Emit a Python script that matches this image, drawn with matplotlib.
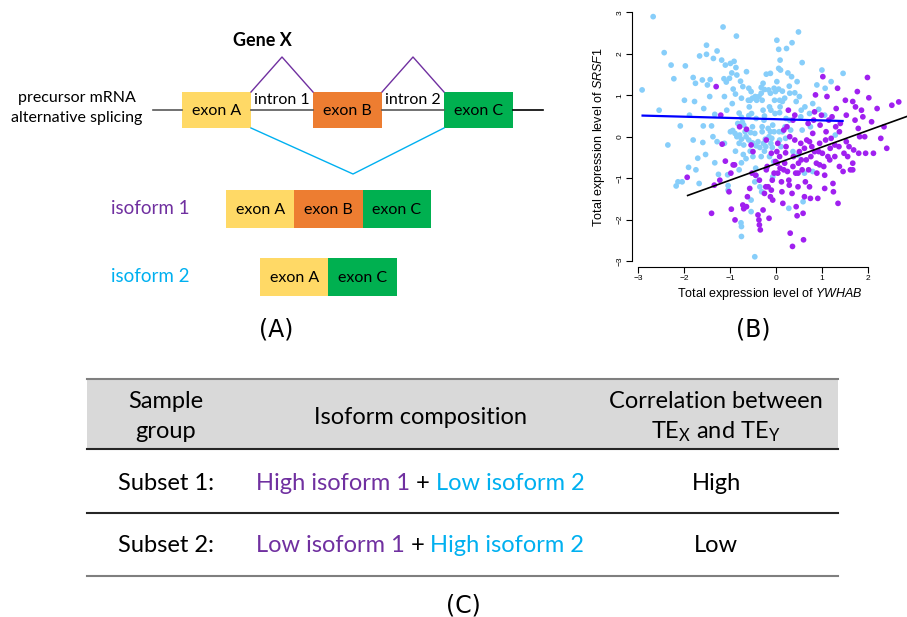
import matplotlib
matplotlib.use("Agg")
import matplotlib.pyplot as plt
import numpy as np

plt.rcParams['font.family'] = ['Lato', 'DejaVu Sans']
plt.rcParams['mathtext.fontset'] = 'custom'
plt.rcParams['mathtext.rm'] = 'Liberation Sans'
plt.rcParams['mathtext.it'] = 'Liberation Sans:italic'

# ---------------- data for panel B ----------------
blue_x = [-2.67, -2.91, -2.54, -2.43, -2.28, -2.22, -2.35, -1.97, -1.99, -2.08, -2.13, -2.04, -2.17,
          -1.90, -1.88, -1.80, -1.75, -1.77, -1.66, -1.60, -1.57, -1.51, -1.51, -1.49, -1.58, -1.59,
          -1.53, -1.70, -1.67, -1.74, -1.80, -1.43, -1.44, -1.40, -1.37, -1.36, -1.28, -1.33, -1.28,
          -1.33, -1.25, -1.15, -1.18, -1.10, -1.13, -1.08, -1.12, -1.07, -1.12, -1.05, -1.04, -1.04,
          -0.99, -0.91, -0.87, -0.96, -1.01, -0.93, -0.95, -0.88, -0.99, -0.94, -0.89, -0.85, -0.79,
          -0.80, -0.88, -0.86, -0.85, -0.77, -0.72, -0.75, -0.80, -0.75, -0.73, -0.83, -0.70, -0.67,
          -0.65, -0.75, -0.70, -0.71, -0.65, -0.75, -0.80, -0.76, -0.75, -0.75, -0.64, -0.60, -0.58,
          -0.59, -0.59, -0.54, -0.56, -0.51, -0.53, -0.51, -0.55, -0.59, -0.51, -0.56, -0.50, -0.54,
          -0.54, -0.46, -0.45, -0.42, -0.43, -0.46, -0.39, -0.43, -0.35, -0.32, -0.44, -0.43, -0.46,
          -0.35, -0.31, -0.37, -0.32, -0.32, -0.28, -0.25, -0.30, -0.28, -0.25, -0.26, -0.30, -0.30,
          -0.23, -0.27, -0.22, -0.25, -0.21, -0.12, -0.16, -0.12, -0.14, -0.11, -0.17, -0.12, -0.15,
          -0.09, -0.11, -0.08, -0.14, -0.07, -0.05, -0.04, -0.01, -0.03, -0.02, -0.07, -0.04, 0.02,
          0.06, 0.09, 0.06, 0.10, 0.02, 0.06, 0.14, 0.08, 0.14, 0.09, 0.08, 0.07, 0.08, 0.14, 0.11,
          0.23, 0.35, 0.26, 0.29, 0.19, 0.30, 0.22, 0.30, 0.20, 0.32, 0.21, 0.34, 0.41, 0.44, 0.46,
          0.49, 0.51, 0.57, 0.55, 0.54, 0.57, 0.28, 0.59, 0.63, 0.73, 0.75, 0.80, 0.89, 0.93, 1.00,
          1.06, 1.07, 1.20, 1.29, 1.46, 0.80, 0.62, 0.37, 0.48]
blue_y = [2.90, 1.13, 0.64, 2.03, 1.73, 1.40, -0.20, 1.71, 0.88, 0.26, -1.09, -1.09, -1.19,
          -0.74, 0.52, 1.43, 1.29, 0.85, 1.95, 1.37, 0.68, 2.21, 1.99, 1.25, 0.26, -0.14,
          -0.43, -0.52, -1.13, -0.80, -0.08, 1.38, 0.97, 0.26, 0.00, 1.89, 2.07, 0.54, -0.12,
          -0.63, -0.91, 2.65, 1.85, 1.73, 1.40, 1.32, 0.97, 0.64, -0.16, -0.92, -1.18, -1.29,
          1.77, 1.82, 1.67, 1.54, 1.41, 1.15, 0.80, 1.03, 0.12, 0.15, 0.08, 0.00, 0.04,
          -0.16, -0.35, 2.43, 1.49, 1.34, 1.21, 0.93, 0.57, 0.47, 0.35, 0.32, 0.28, 0.12,
          0.00, -0.06, -0.20, -0.43, -0.53, -0.63, -0.80, -2.08, -2.17, -2.41, 1.57, 0.88, 0.72,
          0.51, 1.17, 1.09, 0.88, 0.93, 0.56, 0.24, 0.10, -0.08, -0.15, -0.35, -0.48, -1.53,
          -1.81, -2.90, 0.97, 0.88, 0.44, 0.08, -0.12, -0.22, -0.26, -0.48, -0.76, -0.94, -1.09,
          -1.21, -1.33, 0.97, 1.05, 1.19, 1.29, 1.14, 0.88, 0.64, 0.50, 0.40, 0.24, 0.12,
          -0.06, -0.16, -0.24, -0.35, 1.51, 1.53, 1.13, 1.05, 0.72, 0.64, 0.20, 0.12, 0.00,
          -0.04, -0.16, -0.26, -0.48, -0.97, -0.60, 1.17, 1.09, 0.88, 0.56, 0.28, 0.12, 2.33,
          2.11, 1.85, 1.65, 1.61, 1.33, 1.15, 1.10, 0.88, 0.85, 0.72, 0.58, 0.12, -0.08, 0.12, -0.24,
          2.13, 2.27, 1.54, 1.22, 0.93, 1.05, 0.44, 0.40, 0.24, 0.16, -0.04, 1.45, 1.06, 0.85, 1.33,
          2.53, 0.97, 1.79, 0.64, 0.48, 0.16, -1.73, -1.57, 0.72, 0.56, 0.24, 0.80, 1.25, 0.66, 1.61,
          0.52, 1.17, 1.33, 0.04, 1.53, -0.84, -0.88, -0.36, -0.44]

purple_x = [-1.93, -1.34, -1.40, -1.30, -1.20, -1.17, -1.22, -1.02, -0.97, -0.98, -0.93, -0.89,
            -0.72, -0.64, -0.62, -0.57, -0.50, -0.52, -0.54, -0.44, -0.39, -0.37, -0.34, -0.36,
            -0.28, -0.25, -0.22, -0.21, -0.19, -0.17, -0.15, -0.12, -0.10, -0.08, -0.07, -0.04,
            -0.01, 0.02, 0.03, 0.04, 0.08, 0.09, 0.12, 0.13, 0.15, 0.17, 0.19, 0.21, 0.22, 0.24,
            0.27, 0.25, 0.28, 0.29, 0.31, 0.36, 0.35, 0.37, 0.38, 0.41, 0.41, 0.43, 0.44, 0.46,
            0.48, 0.49, 0.51, 0.54, 0.57, 0.59, 0.60, 0.62, 0.64, 0.66, 0.67, 0.70, 0.71, 0.73,
            0.75, 0.76, 0.78, 0.80, 0.82, 0.84, 0.86, 0.88, 0.89, 0.91, 0.93, 0.95, 0.96, 0.99,
            1.01, 1.02, 1.04, 1.06, 1.08, 1.09, 1.11, 1.13, 1.15, 1.18, 1.20, 1.22, 1.24, 1.25,
            1.28, 1.30, 1.31, 1.34, 1.35, 1.37, 1.38, 1.40, 1.46, 1.48, 1.51, 1.53, 1.56, 1.59,
            1.62, 1.67, 1.67, 1.69, 1.72, 1.73, 1.77, 1.79, 1.80, 1.86, 1.89, 1.93, 1.95, 1.99,
            2.02, 2.08, 2.12, 2.20, 2.28, 2.35, 2.41, 2.52, 2.67, -0.79, -1.10, -0.90, -0.64,
            -0.70, -0.36, -0.21, -0.10, 0.04, 0.17, 0.30, 0.37, 0.48, 0.55, 0.62, 0.73, 0.84,
            0.95, 1.06, 1.17, 1.28, 1.38, 1.53, 1.67, 1.82]
purple_y = [-0.98, -1.17, -1.85, 1.21, 0.52, -0.18, -1.05, -1.33, -1.75, -0.88, -0.68, -2.01,
            -1.65, -1.69, -1.45, -1.25, -0.36, -0.88, -0.20, -0.93, -1.89, -2.01, -2.25, -2.13,
            -1.77, -1.37, -1.21, -0.80, -0.72, -1.21, -1.97, -1.45, -1.29, -1.05, -1.53, -0.88,
            -0.60, -0.36, -0.64, -0.88, -0.48, -0.76, -1.09, -1.33, -1.61, -0.80, -0.64, -0.39,
            -0.24, 0.24, 0.64, -0.84, -1.05, -1.17, -2.33, -2.65, -1.37, -0.72, -0.48, 0.52,
            -0.08, -0.88, -1.69, -1.91, -1.21, -0.64, -0.36, -0.16, -0.80, -1.85, -2.49, -1.45,
            -1.09, -0.56, -0.08, 0.32, -0.80, -1.21, -1.49, -0.48, -0.24, 0.08, 0.40, 0.60, 1.01,
            -0.64, -0.88, -1.49, -0.36, -0.16, 0.28, 0.52, -0.40, 1.45, -0.72, -0.93, -0.08, 0.12,
            0.97, -0.48, 0.40, -0.28, -0.04, 0.48, -1.13, -1.33, -0.48, 0.24, 0.68, 1.17, -1.61,
            -0.24, 0.12, 0.32, -0.84, -0.40, 0.88, 0.52, -0.48, -0.24, -0.80, -0.80, 0.85, -0.32,
            0.40, 0.72, 1.09, 0.20, -0.40, 0.64, 0.48, 0.00, -0.40, 1.43, 0.94, 0.36, -0.40, 0.68,
            -0.04, 0.24, -0.28, 0.76, 0.84, 0.24, -0.59, -0.68, 0.18, -1.74, -1.05, -0.08, -0.40,
            -0.16, 0.16, 0.00, 0.40, -0.88, -0.56, -0.28, -0.12, -0.36, -0.68, -1.25, -0.56, -0.20,
            -0.72, -0.12, -0.64, 0.00]

# fitted regression lines (end points)
blue_line_x = [-2.90, 1.45]
blue_line_y = [0.51, 0.38]
black_line_x = [-1.92, 2.90]
black_line_y = [-1.42, 0.51]

x_ticks = [-3, -2, -1, 0, 1, 2]
y_ticks = [-3, -2, -1, 0, 1, 2, 3]

# ---------------- data for panel A ----------------
exon_names = ["exon A", "exon B", "exon C"]
exon_colors = ["#FFD966", "#ED7D31", "#00B050"]
intron_names = ["intron 1", "intron 2"]
isoform_labels = ["isoform 1", "isoform 2"]
isoform_exons = [[0, 1, 2], [0, 2]]
c_purple = "#7030A0"
c_cyan = "#00B0F0"

# ---------------- data for panel C ----------------
header_1 = ["Sample", "group"]
header_2 = "Isoform composition"
header_3 = ["Correlation between", r"TE$_\mathregular{X}$ and TE$_\mathregular{Y}$"]
row_names = ["Subset 1:", "Subset 2:"]
row_parts = [[("High isoform 1", c_purple), ("+", "black"), ("Low isoform 2", c_cyan)],
             [("Low isoform 1", c_purple), ("+", "black"), ("High isoform 2", c_cyan)]]
row_corr = ["High", "Low"]

W, H = 907, 617
fig = plt.figure(figsize=(W / 100, H / 100), dpi=100)
ax = fig.add_axes([0, 0, 1, 1])
ax.set_xlim(0, W)
ax.set_ylim(H, 0)
ax.axis('off')

# ---------------- Panel A ----------------
ax.text(262, 40, "Gene X", ha='center', va='center', fontsize=13, fontweight='bold')
ax.text(77, 98, "precursor mRNA", ha='center', va='center', fontsize=11.5)
ax.text(77, 118, "alternative splicing", ha='center', va='center', fontsize=11.5)

box_y0, box_y1 = 92, 128
ex_x = [(182, 251), (313, 382), (444, 513)]
ax.plot([153, 182], [110, 110], color='#595959', lw=1.2)
ax.plot([251, 313], [110, 110], color='#595959', lw=1.2)
ax.plot([382, 444], [110, 110], color='#595959', lw=1.2)
ax.plot([513, 543], [110, 110], color='black', lw=1.2)
for (x0, x1), name, col in zip(ex_x, exon_names, exon_colors):
    ax.add_patch(plt.Rectangle((x0, box_y0), x1 - x0, box_y1 - box_y0, facecolor=col, edgecolor='none'))
    ax.text((x0 + x1) / 2, 111, name, ha='center', va='center', fontsize=11.5)
for (xa, xb), name in zip([(251, 313), (382, 444)], intron_names):
    ax.plot([xa, (xa + xb) / 2, xb], [92, 57, 92], color=c_purple, lw=1.0)
    ax.text((xa + xb) / 2, 100, name, ha='center', va='center', fontsize=11.5)
ax.plot([251, 353, 444], [128, 174, 128], color=c_cyan, lw=1.0)

iso_rows = [(190, 228, 226), (258, 296, 260)]
iso_label_col = [c_purple, c_cyan]
seg_w = 68.3
for (y0, y1, xs), lab, lcol, exs in zip(iso_rows, isoform_labels, iso_label_col, isoform_exons):
    ax.text(150, (y0 + y1) / 2, lab, ha='center', va='center', fontsize=13.5, color=lcol)
    for k, e in enumerate(exs):
        x0 = xs + k * seg_w
        ax.add_patch(plt.Rectangle((x0, y0), seg_w, y1 - y0, facecolor=exon_colors[e], edgecolor='none'))
        ax.text(x0 + seg_w / 2, (y0 + y1) / 2 + 1, exon_names[e], ha='center', va='center', fontsize=11.5)

ax.text(276, 329, "(A)", ha='center', va='center', fontsize=17, family='DejaVu Sans')
ax.text(753, 329, "(B)", ha='center', va='center', fontsize=17, family='DejaVu Sans')
ax.text(463, 606, "(C)", ha='center', va='center', fontsize=17, family='DejaVu Sans')

# ---------------- Panel C ----------------
tx0, tx1 = 87, 838
ax.add_patch(plt.Rectangle((tx0, 379), tx1 - tx0, 449 - 379, facecolor='#D9D9D9', edgecolor='none'))
ax.plot([tx0, tx1], [379, 379], color='#7F7F7F', lw=1.5)
ax.plot([tx0, tx1], [449, 449], color='#262626', lw=1.5)
ax.plot([tx0, tx1], [513, 513], color='#262626', lw=1.5)
ax.plot([tx0, tx1], [576, 576], color='#7F7F7F', lw=1.5)

fs = 17
ax.text(166, 402, header_1[0], ha='center', va='center', fontsize=fs)
ax.text(166, 432, header_1[1], ha='center', va='center', fontsize=fs)
ax.text(420, 417, header_2, ha='center', va='center', fontsize=fs)
ax.text(716, 402, header_3[0], ha='center', va='center', fontsize=fs)
ax.text(716, 432, header_3[1], ha='center', va='center', fontsize=fs)

renderer = fig.canvas.get_renderer()


def width(s):
    t = ax.text(0, 0, s, fontsize=fs)
    w = t.get_window_extent(renderer).width
    t.remove()
    return w


for yy, name, parts, corr in zip([483, 545], row_names, row_parts, row_corr):
    ax.text(166, yy, name, ha='center', va='center', fontsize=fs)
    ax.text(716, yy, corr, ha='center', va='center', fontsize=fs)
    full = " ".join(p for p, _ in parts)
    total = width(full)
    start = 420 - total / 2
    prefix = ""
    for p, col in parts:
        upto = (prefix + " " + p) if prefix else p
        off = width(upto) - width(p)
        ax.text(start + off, yy, p, ha='left', va='center', fontsize=fs, color=col)
        prefix = upto

# ---------------- Panel B ----------------
def fx(px):
    return px / W


def fy(py):
    return 1 - py / H


bx = fig.add_axes([fx(632), fy(266.7), fx(907) - fx(632), fy(6.7) - fy(266.7)])
bx.patch.set_alpha(0)
bx.scatter(blue_x, blue_y, s=17, color='#87CEFA', edgecolors='none', zorder=2)
bx.scatter(purple_x, purple_y, s=17, color='#A020F0', edgecolors='none', zorder=2)
bx.plot(blue_line_x, blue_line_y, color='#0000FF', lw=1.6, zorder=3)
bx.plot(black_line_x, black_line_y, color='black', lw=1.2, zorder=3)
bx.set_xlim(-3.13, 2.85)
bx.set_ylim(-3.14, 3.14)
for s in ['top', 'right']:
    bx.spines[s].set_visible(False)
bx.spines['left'].set_bounds(-3, 3)
bx.spines['bottom'].set_bounds(-3, 2)
bx.spines['left'].set_linewidth(0.8)
bx.spines['bottom'].set_linewidth(0.8)
bx.set_xticks(x_ticks)
bx.set_yticks(y_ticks)
bx.set_xticklabels([str(v).replace('-', '\u2212') for v in x_ticks], family='Liberation Sans', fontsize=6)
bx.set_yticklabels([str(v).replace('-', '\u2212') for v in y_ticks], family='Liberation Sans', fontsize=6,
                   rotation=90, va='center')
bx.tick_params(direction='out', length=4, width=0.8, pad=2)
bx.set_xlabel(r"Total expression level of $\mathit{YWHAB}$", family='Liberation Sans', fontsize=9, labelpad=2.5)
bx.set_ylabel(r"Total expression level of $\mathit{SRSF1}$", family='Liberation Sans', fontsize=9, labelpad=7)

fig.savefig("out.png", dpi=100)
